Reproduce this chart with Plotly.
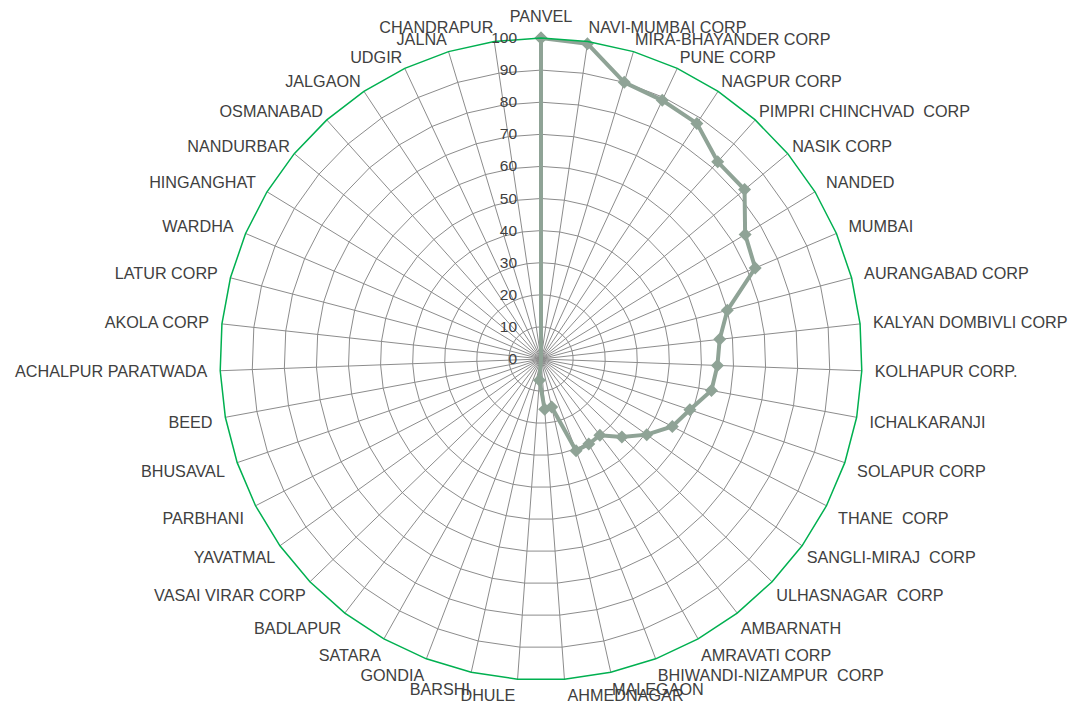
import math
import plotly.graph_objects as go

categories = [
    "PANVEL", "NAVI-MUMBAI CORP", "MIRA-BHAYANDER CORP", "PUNE CORP", "NAGPUR CORP",
    "PIMPRI CHINCHVAD  CORP", "NASIK CORP", "NANDED", "MUMBAI", "AURANGABAD CORP",
    "KALYAN DOMBIVLI CORP", "KOLHAPUR CORP.", "ICHALKARANJI", "SOLAPUR CORP", "THANE  CORP",
    "SANGLI-MIRAJ  CORP", "ULHASNAGAR  CORP", "AMBARNATH", "AMRAVATI CORP",
    "BHIWANDI-NIZAMPUR  CORP", "MALEGAON", "AHMEDNAGAR", "DHULE", "BARSHI", "GONDIA",
    "SATARA", "BADLAPUR", "VASAI VIRAR CORP", "YAVATMAL", "PARBHANI", "BHUSAVAL", "BEED",
    "ACHALPUR PARATWADA", "AKOLA CORP", "LATUR CORP", "WARDHA", "HINGANGHAT", "NANDURBAR",
    "OSMANABAD", "JALGAON", "UDGIR", "JALNA", "CHANDRAPUR",
]
values = [
    100, 99.3, 90, 89, 88,
    82.5, 82.5, 74.5, 72.5, 60,
    56, 55, 54, 49, 46,
    40.5, 35, 30, 30.4,
    30.6, 15.3, 15.7, 6.6, 0, 0,
    0, 0, 0, 0, 0, 0, 0,
    0, 0, 0, 0, 0, 0,
    0, 0, 0, 0, 0,
]
radial_ticks = [0, 10, 20, 30, 40, 50, 60, 70, 80, 90, 100]

NBSP = "\u00a0"
# labels that sit near the top / bottom of the ring are drawn a little closer to it
n = len(categories)
near = set()
for k in range(1, n):
    ang = k * 360.0 / n
    if abs(math.cos(math.radians(ang))) > math.cos(math.radians(55)):
        near.add(k)

def label(k):
    c = categories[k]
    if c == "DHULE":
        return c + NBSP * 13
    if c == "AHMEDNAGAR":
        return NBSP * 27 + c
    return c

text_far = [categories[k] if k not in near else "" for k in range(n)]
text_near = [label(k) if k in near else "" for k in range(n)]

theta = categories + [categories[0]]
r = values + [values[0]]

fig = go.Figure()
fig.add_trace(go.Scatterpolar(
    r=r, theta=theta, mode="lines+markers",
    line=dict(color="#8FA396", width=4),
    marker=dict(symbol="diamond", size=10, color="#8FA396"),
    showlegend=False, hoverinfo="skip", subplot="polar",
))
# invisible copy on the overlay subplot so it gets the same category axis
fig.add_trace(go.Scatterpolar(
    r=values, theta=categories, mode="markers",
    marker=dict(opacity=0, size=1),
    showlegend=False, hoverinfo="skip", subplot="polar2",
))

font_family = "Liberation Sans, Arial, sans-serif"
common_ang = dict(
    type="category", categoryorder="array", categoryarray=categories,
    direction="clockwise", rotation=90, tickmode="array", tickvals=categories,
    tickcolor="rgba(0,0,0,0)", ticks="outside",
    tickfont=dict(size=16.2, color="#404040", family=font_family),
)
full = dict(x=[0, 1], y=[0, 1])

fig.update_layout(
    width=1076, height=705,
    margin=dict(l=0, r=10, t=30, b=33),
    paper_bgcolor="white",
    font=dict(family=font_family, size=16.2, color="#404040"),
    polar=dict(
        domain=full,
        bgcolor="white",
        gridshape="linear",
        angularaxis=dict(
            **common_ang, ticktext=text_far, ticklen=9,
            showline=True, linecolor="#00B050", linewidth=1.5,
            showgrid=True, gridcolor="#8C8C8C", gridwidth=1,
        ),
        radialaxis=dict(
            range=[0, 100], tickvals=radial_ticks, ticktext=[str(v) for v in radial_ticks],
            angle=90, side="counterclockwise", tickangle=90,
            showline=False, showgrid=True, gridcolor="#8C8C8C", gridwidth=1,
            ticks="outside", ticklen=18, tickcolor="rgba(0,0,0,0)",
            tickfont=dict(size=15.5, color="#404040"),
        ),
    ),
    polar2=dict(
        domain=full,
        bgcolor="rgba(0,0,0,0)",
        gridshape="linear",
        angularaxis=dict(
            **common_ang, ticktext=text_near, ticklen=2,
            showline=False, showgrid=False,
        ),
        radialaxis=dict(range=[0, 100], visible=False),
    ),
)

fig.write_html("out.html")
